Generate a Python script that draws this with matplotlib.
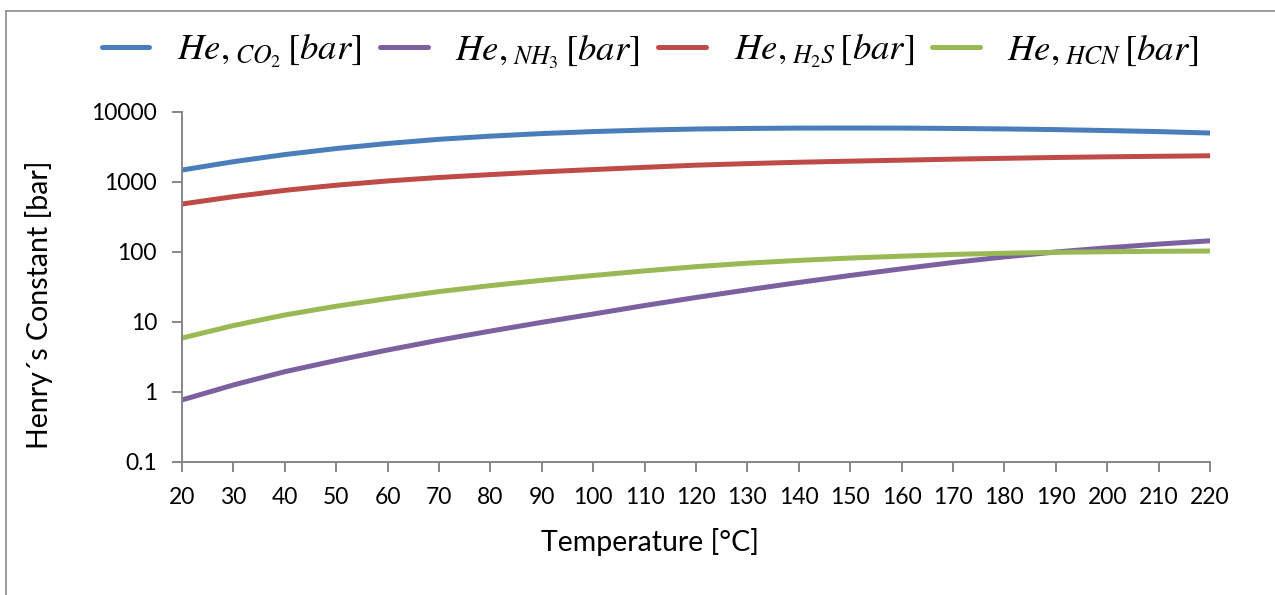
import numpy as np
import matplotlib
matplotlib.use("Agg")
import matplotlib.pyplot as plt
from matplotlib.lines import Line2D
from matplotlib.ticker import FixedLocator, FixedFormatter, NullLocator

# Henry constants vs temperature, sampled every 10 °C
temp_c = [20, 30, 40, 50, 60, 70, 80, 90, 100, 110, 120,
          130, 140, 150, 160, 170, 180, 190, 200, 210, 220]
he_co2 = [1483, 1950, 2466, 3006, 3548, 4074, 4519, 4920, 5250, 5520, 5715,
          5820, 5890, 5900, 5890, 5820, 5730, 5600, 5430, 5250, 5010]
he_nh3 = [0.77, 1.26, 1.95, 2.82, 3.98, 5.5, 7.41, 9.89, 13.0, 17.2, 22.4,
          28.8, 36.7, 46.2, 57.5, 70.8, 85.1, 100, 114.8, 129.7, 144.5]
he_h2s = [485, 617, 760, 900, 1035, 1160, 1275, 1395, 1505, 1620, 1740,
          1830, 1915, 1985, 2050, 2120, 2180, 2240, 2290, 2330, 2370]
he_hcn = [5.9, 8.9, 12.6, 16.8, 21.6, 27.2, 33.1, 39.4, 46.2, 53.7, 61.7,
          69.2, 75.9, 82.0, 87.1, 92.3, 96.0, 98.9, 100.9, 102.3, 103.3]

labels = [r"$He,_{CO_2}\,[bar]$", r"$He,_{NH_3}\,[bar]$",
          r"$He,_{H_2S}\,[bar]$", r"$He,_{HCN}\,[bar]$"]
colors = ["#4A7EBB", "#7D60A0", "#BE4B48", "#98B954"]

y_ticks = [0.1, 1, 10, 100, 1000, 10000]
y_tick_labels = ["0.1", "1", "10", "100", "1000", "10000"]
x_ticks = list(range(20, 221, 10))

plt.rcParams["font.family"] = ["Lato", "DejaVu Sans"]
plt.rcParams["mathtext.fontset"] = "stix"

fig = plt.figure(figsize=(12.75, 5.95), dpi=100)
ax = fig.add_axes([182 / 1275, 1 - 462 / 595, (1210 - 182) / 1275, (462 - 112) / 595])

for series, lab, col in zip([he_co2, he_nh3, he_h2s, he_hcn], labels, colors):
    ax.plot(temp_c, series, color=col, lw=3.6, label=lab, solid_capstyle="round")

ax.set_yscale("log")
ax.set_ylim(0.1, 10000)
ax.set_xlim(20, 220)
ax.yaxis.set_major_locator(FixedLocator(y_ticks))
ax.yaxis.set_major_formatter(FixedFormatter(y_tick_labels))
ax.yaxis.set_minor_locator(NullLocator())
ax.set_xticks(x_ticks)

axis_grey = "#868686"
for side in ["top", "right"]:
    ax.spines[side].set_visible(False)
for side in ["left", "bottom"]:
    ax.spines[side].set_color(axis_grey)
    ax.spines[side].set_linewidth(1.4)
ax.tick_params(axis="both", direction="out", length=7, width=1.4,
               color=axis_grey, labelsize=16.5)
ax.tick_params(axis="x", pad=11)
ax.tick_params(axis="y", pad=11)

ax.set_xlabel("Temperature [°C]", fontsize=20.5)
ax.set_ylabel("Henry´s Constant [bar]", fontsize=20.5)
ax.xaxis.set_label_coords(0.455, -0.19)
ax.yaxis.set_label_coords(-0.125, 0.45)

ax.legend(loc="center", bbox_to_anchor=(0.51, 0.913), bbox_transform=fig.transFigure,
          ncol=4, frameon=False, fontsize=26.5, handlelength=1.3,
          handletextpad=0.75, columnspacing=0.5)

# outer frame edges
fig.add_artist(Line2D([6 / 1275, 6 / 1275], [0, 1 - 11 / 595],
                      transform=fig.transFigure, color="#8c8c8c", lw=1.2))
fig.add_artist(Line2D([6 / 1275, 1], [1 - 11 / 595, 1 - 11 / 595],
                      transform=fig.transFigure, color="#8c8c8c", lw=1.2))

fig.savefig("out.png", dpi=100)
